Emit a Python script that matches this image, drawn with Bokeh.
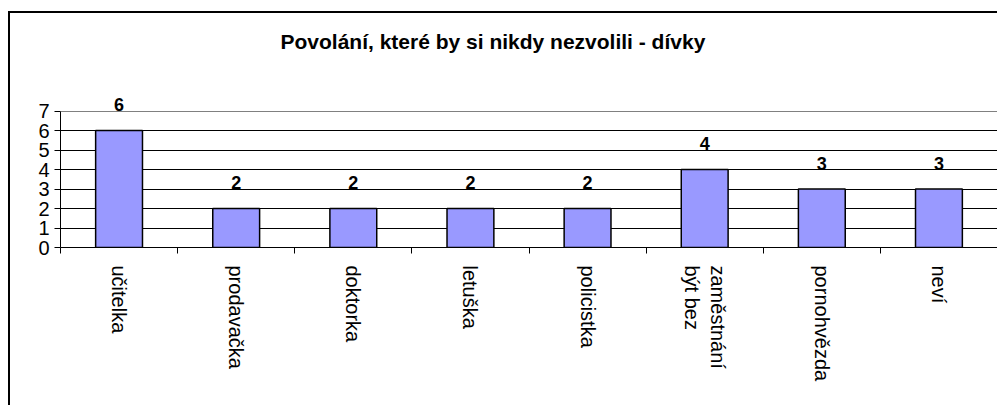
from bokeh.plotting import figure
from bokeh.models import ColumnDataSource, FixedTicker, LabelSet, Range1d, Grid, Title
from bokeh.core.properties import value
from bokeh.embed import file_html
from bokeh.resources import INLINE

categories = ["učitelka", "prodavačka", "doktorka", "letuška", "policistka",
              "být bez\nzaměstnání", "pornohvězda", "neví"]
values = [6, 2, 2, 2, 2, 4, 3, 3]
y_ticks = [0, 1, 2, 3, 4, 5, 6, 7]
title_text = "Povolání, které by si nikdy nezvolili - dívky"

n = len(categories)
xpos = [i + 0.5 for i in range(n)]
src = ColumnDataSource(dict(x=xpos, top=values, lab=[str(v) for v in values]))

FONT = "Liberation Sans"

p = figure(width=989, height=394, output_backend="svg", toolbar_location=None,
           x_range=Range1d(0, n), y_range=Range1d(0, 8),
           min_border_left=50, min_border_right=2, min_border_top=78,
           min_border_bottom=160)
p.styles = {"border-left": "2px solid #000000", "border-top": "2px solid #000000",
            "margin-top": "11px", "margin-left": "8px"}

p.background_fill_color = "white"
p.border_fill_color = "white"
p.outline_line_color = None

p.vbar(x="x", top="top", width=0.4, source=src, fill_color="#9999FF",
       line_color="#000000", line_width=1.5)

labels = LabelSet(x="x", y="top", text="lab", source=src, y_offset=26,
                  text_align="center", text_baseline="middle",
                  text_font=value(FONT), text_font_style="bold",
                  text_font_size="18px", text_color="#000000")
p.add_layout(labels)

# title
p.title.text = title_text
p.title.text_font = FONT
p.title.text_font_style = "bold"
p.title.text_font_size = "21px"
p.title.text_color = "#000000"
p.title.align = "left"
p.title.vertical_align = "middle"
p.title.offset = 220
p.title.standoff = 10
# empty spacer between title and plot area
p.add_layout(Title(text=" ", text_font_size="21px", standoff=8), "above")

# y axis
p.yaxis.ticker = FixedTicker(ticks=y_ticks)
p.yaxis.bounds = (0, 7)
p.yaxis.major_label_text_font = FONT
p.yaxis.major_label_text_font_size = "20px"
p.yaxis.major_label_text_color = "#000000"
p.yaxis.major_tick_out = 6
p.yaxis.major_tick_in = 0
p.yaxis.minor_tick_line_color = None
p.yaxis.major_label_standoff = 5
p.yaxis.axis_line_color = "#000000"
p.yaxis.major_tick_line_color = "#000000"

# x axis: labels at centres, ticks at boundaries
# (Bokeh stacks rotated multi-line labels in reverse, so the lines are flipped)
tick_text = ["\n".join(reversed(c.split("\n"))) for c in categories]
p.xaxis.ticker = FixedTicker(ticks=xpos, minor_ticks=list(range(n + 1)))
p.xaxis.major_label_overrides = {x: c for x, c in zip(xpos, tick_text)}
p.xaxis.major_label_orientation = "vertical"
p.xaxis.major_label_text_font = FONT
p.xaxis.major_label_text_font_size = "20px"
p.xaxis.major_label_text_color = "#000000"
p.xaxis.major_tick_line_color = None
p.xaxis.major_tick_out = 0
p.xaxis.major_tick_in = 0
p.xaxis.minor_tick_out = 6
p.xaxis.minor_tick_in = 0
p.xaxis.minor_tick_line_color = "#000000"
p.xaxis.major_label_standoff = 12
p.xaxis.axis_line_color = "#000000"

p.xgrid.grid_line_color = None
p.ygrid.ticker = FixedTicker(ticks=y_ticks[1:-1])
p.ygrid.grid_line_color = "#000000"
p.ygrid.grid_line_width = 1

# plot-area border (top and right), grey
p.add_layout(Grid(dimension=1, ticker=FixedTicker(ticks=[y_ticks[-1]]),
                  grid_line_color="#808080", bounds=(0, n)))
p.add_layout(Grid(dimension=0, ticker=FixedTicker(ticks=[n]),
                  grid_line_color="#808080", bounds=(0, y_ticks[-1])))

open("out.html", "w").write(file_html(p, INLINE))
